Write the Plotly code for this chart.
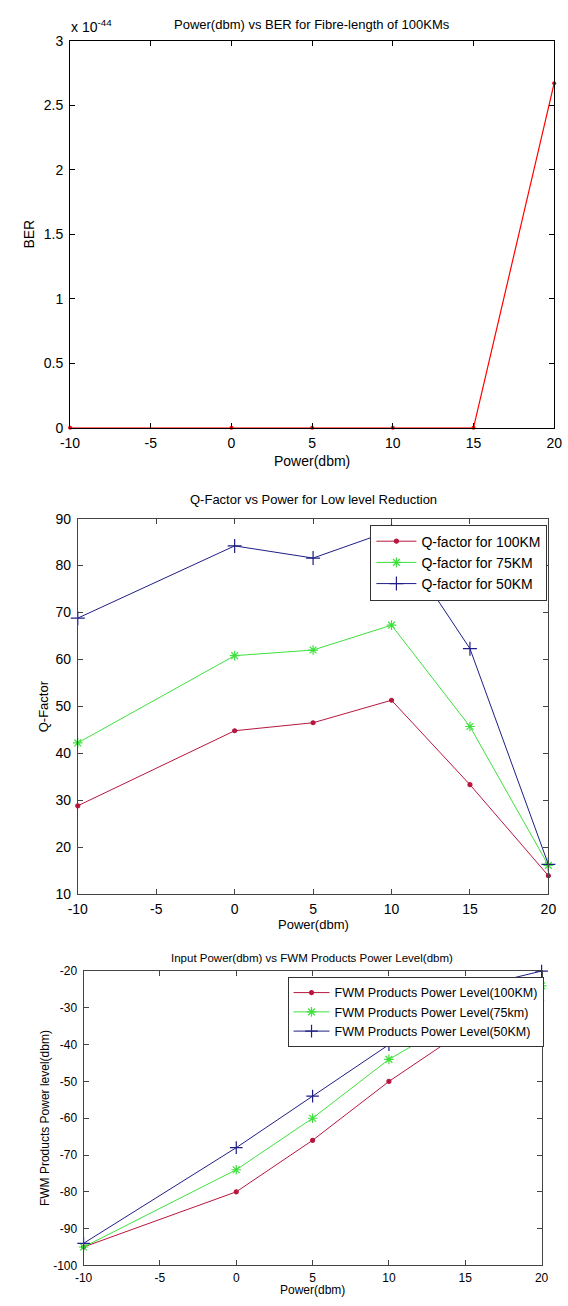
import plotly.graph_objects as go

# ---------------- data ----------------
power = [-10, 0, 5, 10, 15, 20]
ber_100km = [0, 0, 0, 0, 0, 2.67e-44]

q_100km = [28.8, 44.8, 46.5, 51.3, 33.3, 13.9]
q_75km = [42.2, 60.8, 62.0, 67.3, 45.7, 16.1]
q_50km = [68.8, 84.2, 81.6, 87.5, 62.3, 16.3]

fwm_100km = [-95, -80, -66, -50, -36, -28]
fwm_75km = [-95, -74, -60, -44, -32, -24]
fwm_50km = [-94, -68, -54, -40, -25, -20]

x_ticks = [-10, -5, 0, 5, 10, 15, 20]
ber_ticks = [0, 0.5, 1, 1.5, 2, 2.5, 3]
ber_scale = 1e-44
q_ticks = [10, 20, 30, 40, 50, 60, 70, 80, 90]
fwm_ticks = [-100, -90, -80, -70, -60, -50, -40, -30, -20]

# ---------------- layout helpers ----------------
W, H = 568, 1306
FONT = "Liberation Sans, Arial, sans-serif"
RED1 = "#ff0000"
RED = "#b8163e"
GREEN = "#3ee03e"
BLUE = "#1e1e86"


def px(x):
    return x / W


def py(y):
    return 1 - y / H


def lbl(v):
    return str(v)  # plain hyphen-minus like the original


fig = go.Figure()

# Plot 1: BER
fig.add_trace(go.Scatter(x=power, y=ber_100km, mode="lines+markers",
                         line=dict(color=RED1, width=1.2),
                         marker=dict(symbol="circle", size=4, color=RED1),
                         xaxis="x", yaxis="y", showlegend=False, cliponaxis=False))

# Plot 2: Q-factor
for name, vals, col, sym, sz in [
    ("Q-factor for 100KM", q_100km, RED, "circle", 4),
    ("Q-factor for 75KM", q_75km, GREEN, "asterisk-open", 8),
    ("Q-factor for 50KM", q_50km, BLUE, "cross-thin-open", 10),
]:
    fig.add_trace(go.Scatter(x=power, y=vals, mode="lines+markers", name=name,
                             line=dict(color=col, width=1),
                             marker=dict(symbol=sym, size=sz, color=col,
                                         line=dict(color=col, width=1.2)),
                             xaxis="x2", yaxis="y2", legend="legend2", cliponaxis=False))

# Plot 3: FWM
for name, vals, col, sym, sz in [
    ("FWM Products Power Level(100KM)", fwm_100km, RED, "circle", 4),
    ("FWM Products Power Level(75km)", fwm_75km, GREEN, "asterisk-open", 8),
    ("FWM Products Power Level(50KM)", fwm_50km, BLUE, "cross-thin-open", 9),
]:
    fig.add_trace(go.Scatter(x=power, y=vals, mode="lines+markers", name=name,
                             line=dict(color=col, width=1),
                             marker=dict(symbol=sym, size=sz, color=col,
                                         line=dict(color=col, width=1.2)),
                             xaxis="x3", yaxis="y3", legend="legend3", cliponaxis=False))


def axis(domain, rng, tickvals, ticktext, anchor=None, color="black", size=13, standoff=0):
    return dict(domain=domain, range=rng, tickmode="array", tickvals=tickvals,
                ticktext=ticktext, ticks="inside", ticklen=5,
                tickcolor=color, showline=True, linecolor=color, linewidth=1,
                mirror="allticks", showgrid=False, zeroline=False, anchor=anchor,
                ticklabelstandoff=standoff,
                tickfont=dict(family=FONT, size=size, color="black"))


fig.update_layout(
    width=W, height=H, margin=dict(l=0, r=0, t=0, b=0),
    paper_bgcolor="white", plot_bgcolor="white",
    font=dict(family=FONT, color="black"),
    showlegend=True,
    xaxis=axis([px(62), px(562)], [-10, 20], x_ticks, [lbl(t) for t in x_ticks],
               anchor="y", size=14, standoff=2),
    yaxis=axis([py(425), py(33)], [0, 3 * ber_scale], [t * ber_scale for t in ber_ticks],
               [lbl(t) for t in ber_ticks], anchor="x", size=14, standoff=3),
    xaxis2=axis([px(70), px(556)], [-10, 20], x_ticks, [lbl(t) for t in x_ticks],
                anchor="y2", color="#444444", size=14, standoff=2),
    yaxis2=axis([py(897), py(517)], [10, 90], q_ticks, [lbl(t) for t in q_ticks],
                anchor="x2", color="#444444", size=14, standoff=3),
    xaxis3=axis([px(76), px(549)], [-10, 20], x_ticks, [lbl(t) for t in x_ticks],
                anchor="y3", color="#444444", size=12, standoff=1),
    yaxis3=axis([py(1273), py(975)], [-100, -20], fwm_ticks, [lbl(t) for t in fwm_ticks],
                anchor="x3", color="#444444", size=12, standoff=3),
    legend2=dict(x=px(555), y=py(523), xanchor="right", yanchor="top",
                 bgcolor="white", bordercolor="#333333", borderwidth=1,
                 font=dict(family=FONT, size=14, color="black"), itemwidth=40),
    legend3=dict(x=px(551), y=py(981), xanchor="right", yanchor="top",
                 bgcolor="white", bordercolor="#333333", borderwidth=1,
                 font=dict(family=FONT, size=12.5, color="black"), itemwidth=36),
)

ann = [
    dict(text="Power(dbm) vs BER for Fibre-length of 100KMs", x=px(312), y=py(17), size=13),
    dict(text="Power(dbm)", x=px(312), y=py(459), size=14),
    dict(text="BER", x=px(20), y=py(229), size=14, angle=-90),
    dict(text="Q-Factor vs Power for Low level Reduction", x=px(313), y=py(498), size=13),
    dict(text="Power(dbm)", x=px(313), y=py(928), size=13),
    dict(text="Q-Factor", x=px(34), y=py(707), size=13, angle=-90),
    dict(text="Input Power(dbm) vs FWM Products Power Level(dbm)", x=px(312), y=py(962), size=11.5),
    dict(text="Power(dbm)", x=px(312), y=py(1298), size=12),
    dict(text="FWM Products Power level(dbm)", x=px(36), y=py(1124), size=12, angle=-90),
]
annotations = []
for a in ann:
    annotations.append(dict(text=a["text"], x=a["x"], y=a["y"], xref="paper", yref="paper",
                            xanchor="center", yanchor="middle", showarrow=False,
                            textangle=a.get("angle", 0),
                            font=dict(family=FONT, size=a["size"], color="black")))
annotations.append(dict(text="x 10<sup>-44</sup>", x=px(61), y=py(29), xref="paper", yref="paper",
                        xanchor="left", yanchor="bottom", showarrow=False,
                        font=dict(family=FONT, size=14, color="black")))
fig.update_layout(annotations=annotations)

fig.write_html("out.html")
